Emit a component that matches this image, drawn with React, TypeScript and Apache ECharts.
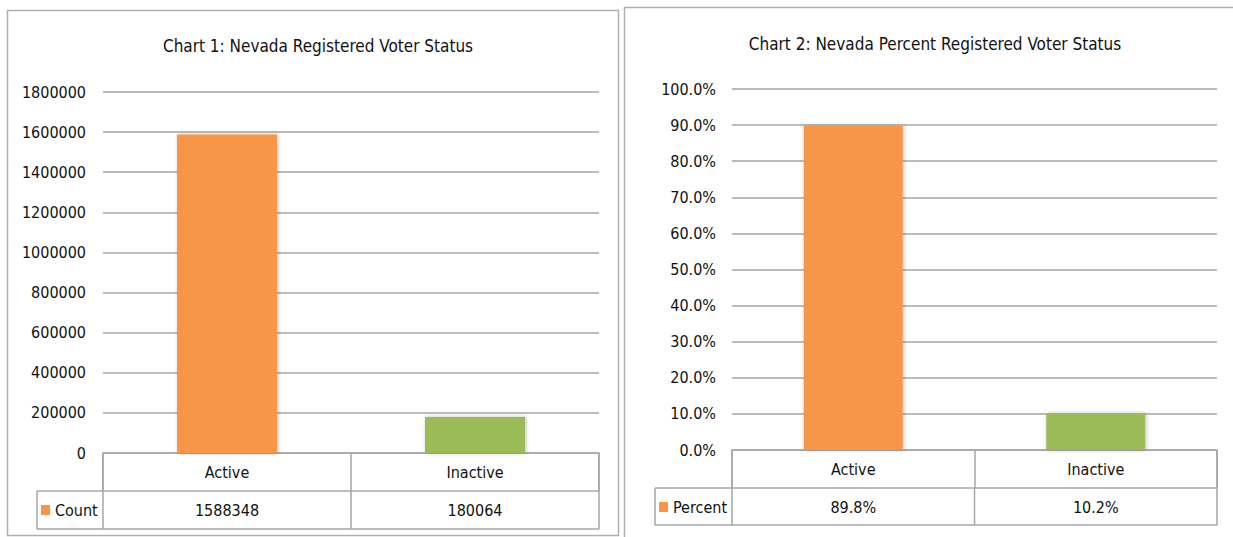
import React, { useEffect, useRef } from "react";
import * as echarts from "echarts";

const categories = ["Active", "Inactive"];
const countValues = [1588348, 180064];
const percentValues = [89.8, 10.2];
const countSeriesName = "Count";
const percentSeriesName = "Percent";
const title1 = "Chart 1: Nevada Registered Voter Status";
const title2 = "Chart 2: Nevada Percent Registered Voter Status";
const countAxis = { min: 0, max: 1800000, interval: 200000 };
const percentAxis = { min: 0, max: 100, interval: 10 };

const ORANGE = "#F79646";
const GREEN = "#9BBB59";
const GRID = "#a6a6a6";
const FONT = "'Liberation Sans Narrow', 'DejaVu Sans Condensed', 'Open Sans', sans-serif";
const TXT = "#111111";
const FS = 16;
const barColors = [ORANGE, GREEN];

export default function App() {
  const ref = useRef<HTMLDivElement>(null);
  useEffect(() => {
    document.body.style.margin = "0";
    const chart = echarts.init(ref.current!, null, { renderer: "svg" });
    const barStyle = (i: number) => ({
      color: barColors[i],
      shadowBlur: 4,
      shadowColor: "rgba(0,0,0,0.25)",
      shadowOffsetX: 1,
      shadowOffsetY: 0,
    });
    const xAxisCommon = {
      type: "category",
      data: categories,
      axisLine: { show: true, lineStyle: { color: GRID, width: 1.5 } },
      axisTick: { show: true, length: 38, interval: 0, lineStyle: { color: GRID, width: 1.5 } },
      axisLabel: { color: TXT, fontSize: FS, fontFamily: FONT, margin: 19, verticalAlign: "middle" },
    };
    const yAxisCommon = {
      type: "value",
      axisLine: { show: false },
      axisTick: { show: false },
      splitLine: { show: true, lineStyle: { color: GRID, width: 1.5 } },
    };
    const legendText = { fontFamily: FONT, fontSize: FS, color: TXT, lineHeight: 20 };
    const option: any = {
      animation: false,
      backgroundColor: "#fff",
      title: [
        { text: title1, left: 313, top: 32, textAlign: "center", textStyle: { fontFamily: FONT, fontSize: 17, fontWeight: "normal", color: TXT } },
        { text: title2, left: 930, top: 30, textAlign: "center", textStyle: { fontFamily: FONT, fontSize: 17, fontWeight: "normal", color: TXT } },
      ],
      legend: [
        { data: [countSeriesName], left: 41, top: 500, padding: 0, itemWidth: 9, itemHeight: 10, icon: "rect", textStyle: legendText },
        { data: [percentSeriesName], left: 659, top: 497, padding: 0, itemWidth: 9, itemHeight: 10, icon: "rect", textStyle: legendText },
      ],
      grid: [
        { left: 103, right: 1233 - 599, top: 92, bottom: 537 - 453 },
        { left: 732, right: 1233 - 1217, top: 89, bottom: 537 - 450 },
      ],
      xAxis: [
        { ...xAxisCommon, gridIndex: 0 },
        { ...xAxisCommon, gridIndex: 1 },
      ],
      yAxis: [
        {
          ...yAxisCommon, gridIndex: 0, ...countAxis,
          axisLabel: { color: TXT, fontSize: FS, fontFamily: FONT, margin: 17, formatter: (v: number) => String(v) },
        },
        {
          ...yAxisCommon, gridIndex: 1, ...percentAxis,
          axisLabel: { color: TXT, fontSize: FS, fontFamily: FONT, margin: 16, formatter: (v: number) => v.toFixed(1) + "%" },
        },
      ],
      series: [
        {
          name: countSeriesName, type: "bar", xAxisIndex: 0, yAxisIndex: 0, barWidth: 100,
          itemStyle: { color: ORANGE },
          data: countValues.map((v, i) => ({ value: v, itemStyle: barStyle(i) })),
        },
        {
          name: percentSeriesName, type: "bar", xAxisIndex: 1, yAxisIndex: 1, barWidth: 99,
          itemStyle: { color: ORANGE },
          data: percentValues.map((v, i) => ({ value: v, itemStyle: barStyle(i) })),
        },
      ],
    };
    chart.setOption(option);

    const line = (x1: number, y1: number, x2: number, y2: number) => ({
      type: "line", silent: true,
      shape: { x1, y1, x2, y2 },
      style: { stroke: GRID, lineWidth: 1.5 },
    });
    const graphics: any[] = [
      { type: "rect", silent: true, shape: { x: 7.5, y: 10.5, width: 611, height: 525 }, style: { fill: "none", stroke: "#b0b0b0", lineWidth: 1.5 } },
      { type: "rect", silent: true, shape: { x: 624.5, y: 7.5, width: 640, height: 560 }, style: { fill: "none", stroke: "#b0b0b0", lineWidth: 1.5 } },
      // table 1
      line(37, 491, 599, 491), line(37, 529, 599, 529), line(37, 491, 37, 529),
      line(103, 453, 103, 529), line(599, 453, 599, 529),
      // table 2
      line(655, 488, 1217, 488), line(655, 525, 1217, 525), line(655, 488, 655, 525),
      line(732, 450, 732, 525), line(1217, 450, 1217, 525),
    ];
    const px1 = categories.map((c) => chart.convertToPixel({ xAxisIndex: 0 }, c) as number);
    const px2 = categories.map((c) => chart.convertToPixel({ xAxisIndex: 1 }, c) as number);
    categories.forEach((_c, i) => {
      graphics.push({
        type: "text", silent: true, x: px1[i], y: 510,
        style: { text: String(countValues[i]), fontFamily: FONT, fontSize: FS, fill: TXT, align: "center", verticalAlign: "middle" },
      });
      graphics.push({
        type: "text", silent: true, x: px2[i], y: 507,
        style: { text: percentValues[i].toFixed(1) + "%", fontFamily: FONT, fontSize: FS, fill: TXT, align: "center", verticalAlign: "middle" },
      });
    });
    graphics.push(line((px1[0] + px1[1]) / 2, 491, (px1[0] + px1[1]) / 2, 529));
    graphics.push(line((px2[0] + px2[1]) / 2, 488, (px2[0] + px2[1]) / 2, 525));
    chart.setOption({ graphic: graphics });
    return () => chart.dispose();
  }, []);
  return <div ref={ref} style={{ position: "fixed", left: 0, top: 0, width: 1233, height: 537 }} />;
}
